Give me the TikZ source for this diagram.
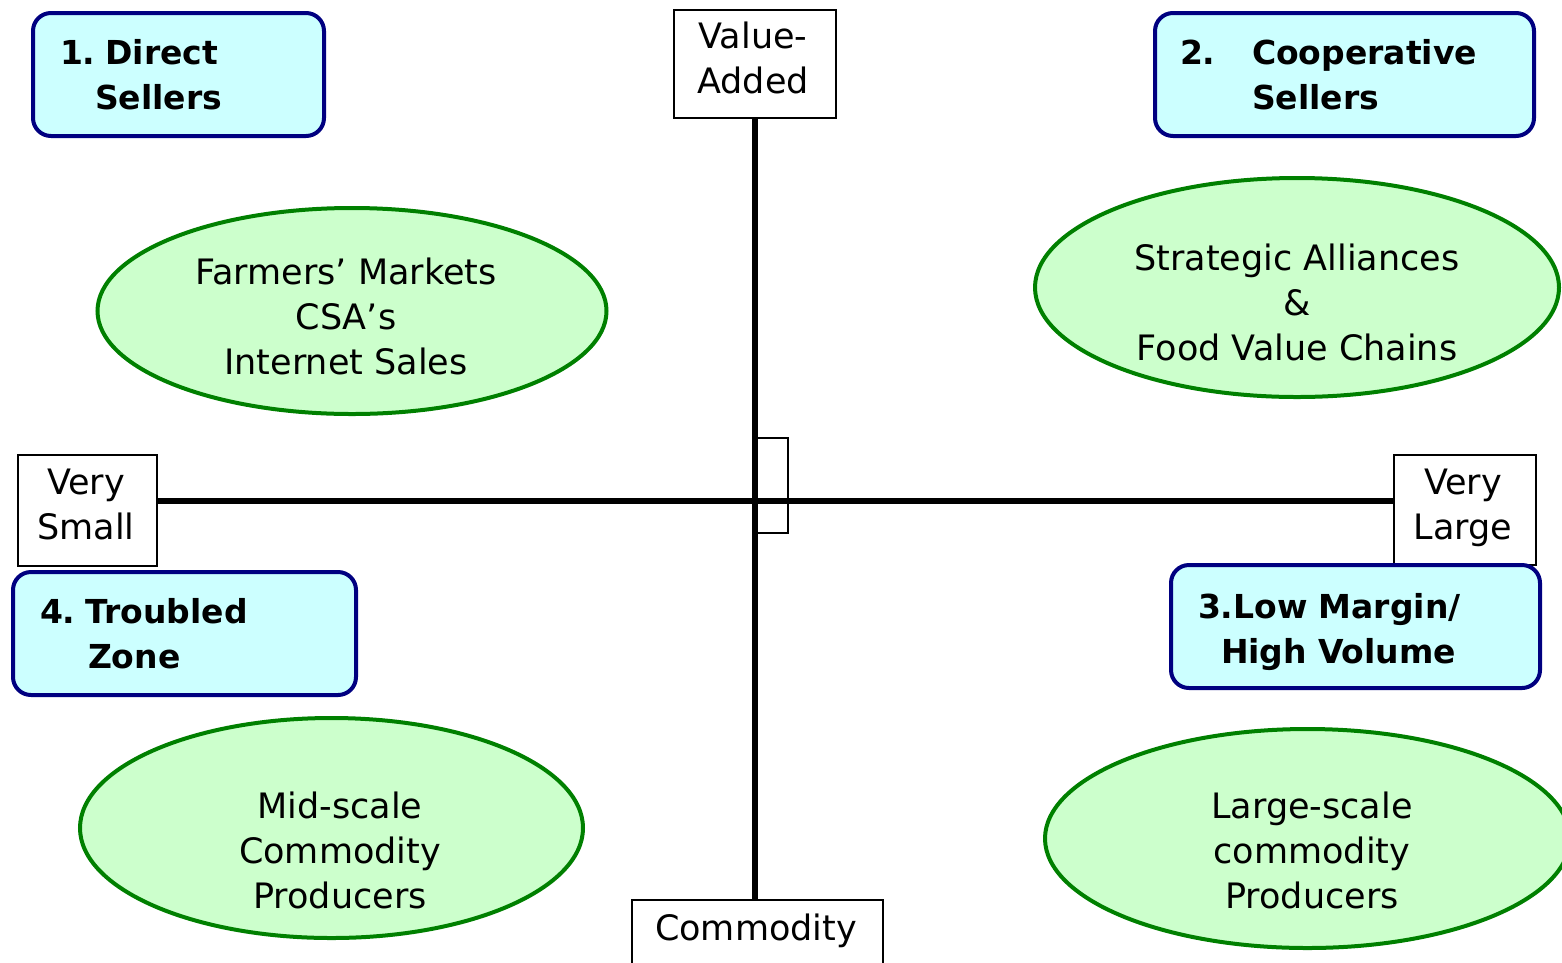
\documentclass[tikz,border=0pt]{standalone}
\usepackage{fontspec}
\setmainfont{DejaVu Sans}
\usetikzlibrary{shapes.geometric}
\definecolor{boxfill}{HTML}{CCFFFF}
\definecolor{boxline}{HTML}{000080}
\definecolor{ellfill}{HTML}{CCFFCC}
\definecolor{ellline}{HTML}{008000}
\tikzset{
  x=1pt, y=1pt,
  regtext/.style={font=\fontsize{35}{45}\selectfont},
  boldtext/.style={font=\fontsize{33}{45}\selectfont\bfseries},
  axisbox/.style={draw, line width=2pt, fill=white, inner sep=0pt},
  axistext/.style={regtext, align=center, inner sep=0pt},
  quadbox/.style={draw=boxline, fill=boxfill, line width=4pt, rounded corners=18pt, boldtext, align=left, inner ysep=0pt},
  oval/.style={ellipse, draw=ellline, fill=ellfill, line width=4pt, inner sep=0pt},
  ovaltext/.style={regtext, align=center, inner sep=0pt},
  axisline/.style={line width=6pt}
}
\begin{document}
\begin{tikzpicture}
\useasboundingbox (0,0) rectangle (1562,-962);
% axis boxes
\node[axisbox, minimum width=162pt, minimum height=108pt] (va) at (755,-64) {};
\node[axistext] (vat) at (753,-58) {Value-\\Added};
\node[axisbox, minimum width=251pt, minimum height=80pt, anchor=north west] (com) at (631,-899) {};
\node[regtext, anchor=base, inner sep=0pt] (comt) at (756,-940) {Commodity};
\node[axisbox, minimum width=139pt, minimum height=111pt] (vs) at (87.5,-510.5) {};
\node[axistext] (vst) at (86,-504) {Very\\Small};
\node[axisbox, minimum width=142pt, minimum height=110pt] (vl) at (1465,-510) {};
\node[axistext] (vlt) at (1463,-508) {Very\\Large};
% axes
\coordinate (hy) at (0,-501);
\draw[axisline] (va.south) -- (va.south |- com.north);
\draw[axisline] (vs.east |- hy) -- (vl.west |- hy);
% centre small box
\node[draw, line width=2pt, minimum width=31pt, minimum height=95pt, inner sep=0pt] (cb) at (772.5,-485.5) {};
% quadrant boxes
\node[quadbox, minimum width=291pt, minimum height=123pt, text width=237pt, inner xsep=27pt] (q1) at (178.5,-74.5)
  {1.\hspace{10pt}Direct\\\hspace*{35pt}Sellers};
\node[quadbox, minimum width=379pt, minimum height=123pt, text width=329pt, inner xsep=25pt] (q2) at (1344.5,-74.5)
  {\makebox[72pt][l]{2.}Cooperative\\\hspace*{72pt}Sellers};
\node[quadbox, minimum width=343pt, minimum height=123pt, text width=289pt, inner xsep=27pt] (q4) at (184.5,-633.5)
  {4.\hspace{10pt}Troubled\\\hspace*{48pt}Zone};
\node[quadbox, minimum width=369pt, minimum height=123pt, text width=315pt, inner xsep=27pt] (q3) at (1355.5,-626.5)
  {\rule{0pt}{37pt}3.Low Margin/\\\hspace*{23pt}High Volume};
% ellipses
\node[oval, minimum width=509pt, minimum height=206pt] (e1) at (352,-311) {};
\node[ovaltext] (e1t) at (346,-316) {Farmers’ Markets\\CSA’s\\Internet Sales};
\node[oval, minimum width=524pt, minimum height=219pt] (e2) at (1297,-287.5) {};
\node[ovaltext] (e2t) at (1297,-302) {Strategic Alliances\\\&\\Food Value Chains};
\node[oval, minimum width=503pt, minimum height=220pt] (e4) at (331.5,-828) {};
\node[ovaltext] (e4t) at (340,-850) {Mid-scale\\Commodity\\Producers};
\node[oval, minimum width=525pt, minimum height=219pt] (e3) at (1307.5,-838.5) {};
\node[ovaltext] (e3t) at (1312,-850) {Large-scale\\commodity\\Producers};
\end{tikzpicture}
\end{document}
